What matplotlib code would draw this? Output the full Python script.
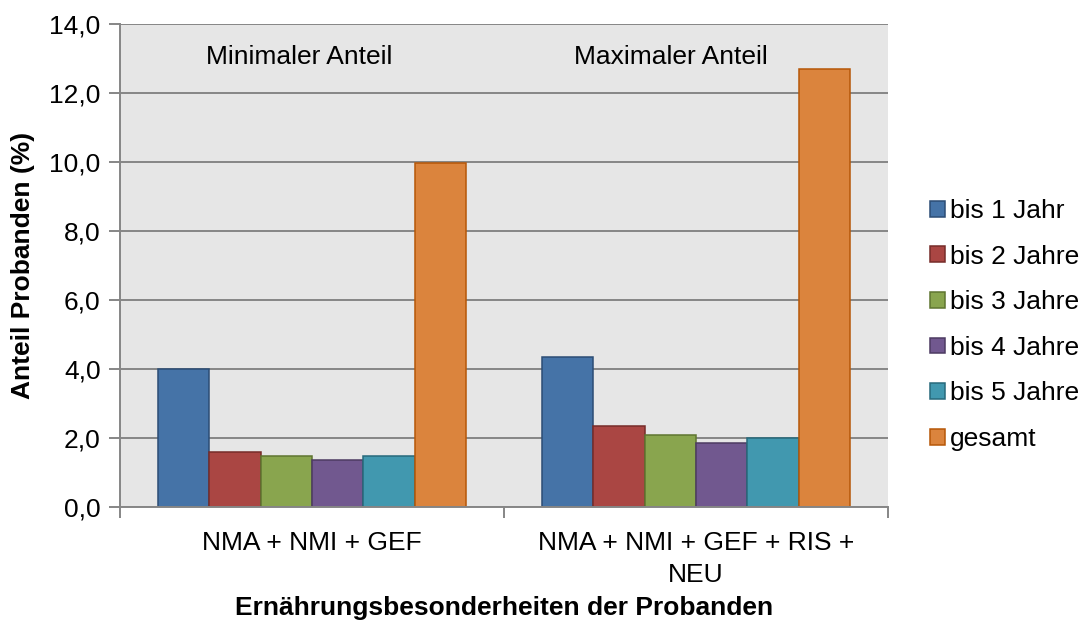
import numpy as np
import matplotlib
matplotlib.use("Agg")
import matplotlib.pyplot as plt
from matplotlib.patches import Patch
from matplotlib.ticker import FuncFormatter

plt.rcParams['font.family'] = ['Liberation Sans', 'DejaVu Sans']

# data
categories = ['NMA + NMI + GEF', 'NMA + NMI + GEF + RIS +\nNEU']
series = ['bis 1 Jahr', 'bis 2 Jahre', 'bis 3 Jahre', 'bis 4 Jahre', 'bis 5 Jahre', 'gesamt']
bis1 = [4.0, 4.35]
bis2 = [1.6, 2.35]
bis3 = [1.49, 2.1]
bis4 = [1.37, 1.86]
bis5 = [1.49, 1.99]
gesamt = [9.96, 12.69]
values = [bis1, bis2, bis3, bis4, bis5, gesamt]
group_notes = ['Minimaler Anteil', 'Maximaler Anteil']

fills = ['#4573A7', '#AA4643', '#89A54E', '#71588F', '#4198AF', '#DB843D']
edges = ['#2C4D75', '#772C2A', '#5F7530', '#4D3B62', '#276A7C', '#B65708']

fig = plt.figure(figsize=(10.92, 6.21), dpi=100)
ax = fig.add_axes([120/1092, 114/621, 768/1092, 483/621])
ax.set_facecolor('#E6E6E6')

x = np.arange(len(categories))
w = 0.1336
for i, (name, vals) in enumerate(zip(series, values)):
    ax.bar(x + (i - 2.5) * w, vals, width=w, color=fills[i], edgecolor=edges[i],
           linewidth=1.1, label=name, zorder=3)

ax.set_xlim(-0.5, 1.5)
ax.set_ylim(0, 14)
ax.set_yticks(np.arange(0, 15, 2))
ax.yaxis.set_major_formatter(FuncFormatter(lambda v, p: f'{v:.1f}'.replace('.', ',')))
ax.grid(axis='y', color='#868686', linewidth=1.4, zorder=1)

ax.set_xticks(x)
ax.set_xticklabels(categories, fontsize=19, linespacing=1.45)
ax.set_xticks([-0.5, 0.5, 1.5], minor=True)
ax.tick_params(axis='x', which='major', length=0, pad=17)
ax.tick_params(axis='x', which='minor', length=8, width=1.4, color='#868686', direction='out')
ax.tick_params(axis='y', length=8, width=1.4, color='#868686', direction='out', labelsize=19, pad=6)

for s in ['top', 'right']:
    ax.spines[s].set_visible(False)
for s in ['left', 'bottom']:
    ax.spines[s].set_color('#868686')
    ax.spines[s].set_linewidth(1.4)
    ax.spines[s].set_zorder(4)

ax.text(-0.034, 13.04, group_notes[0], fontsize=19, ha='center', va='center')
ax.text(0.935, 13.04, group_notes[1], fontsize=19, ha='center', va='center')

fig.text(504/1092, 1 - 608/621, 'Ernährungsbesonderheiten der Probanden',
         fontsize=19, fontweight='bold', ha='center', va='center')
ax.set_ylabel('Anteil Probanden (%)', fontsize=19, fontweight='bold', labelpad=10)

handles = [Patch(facecolor=fills[i], edgecolor=edges[i], linewidth=1.1, label=series[i]) for i in range(6)]
fig.legend(handles=handles, loc='center left', bbox_to_anchor=(917/1092, 1 - 325/621),
           frameon=False, fontsize=19, handlelength=0.55, handleheight=0.55,
           handletextpad=0.2, labelspacing=0.82, borderpad=0)

fig.savefig('out.png', dpi=100)
